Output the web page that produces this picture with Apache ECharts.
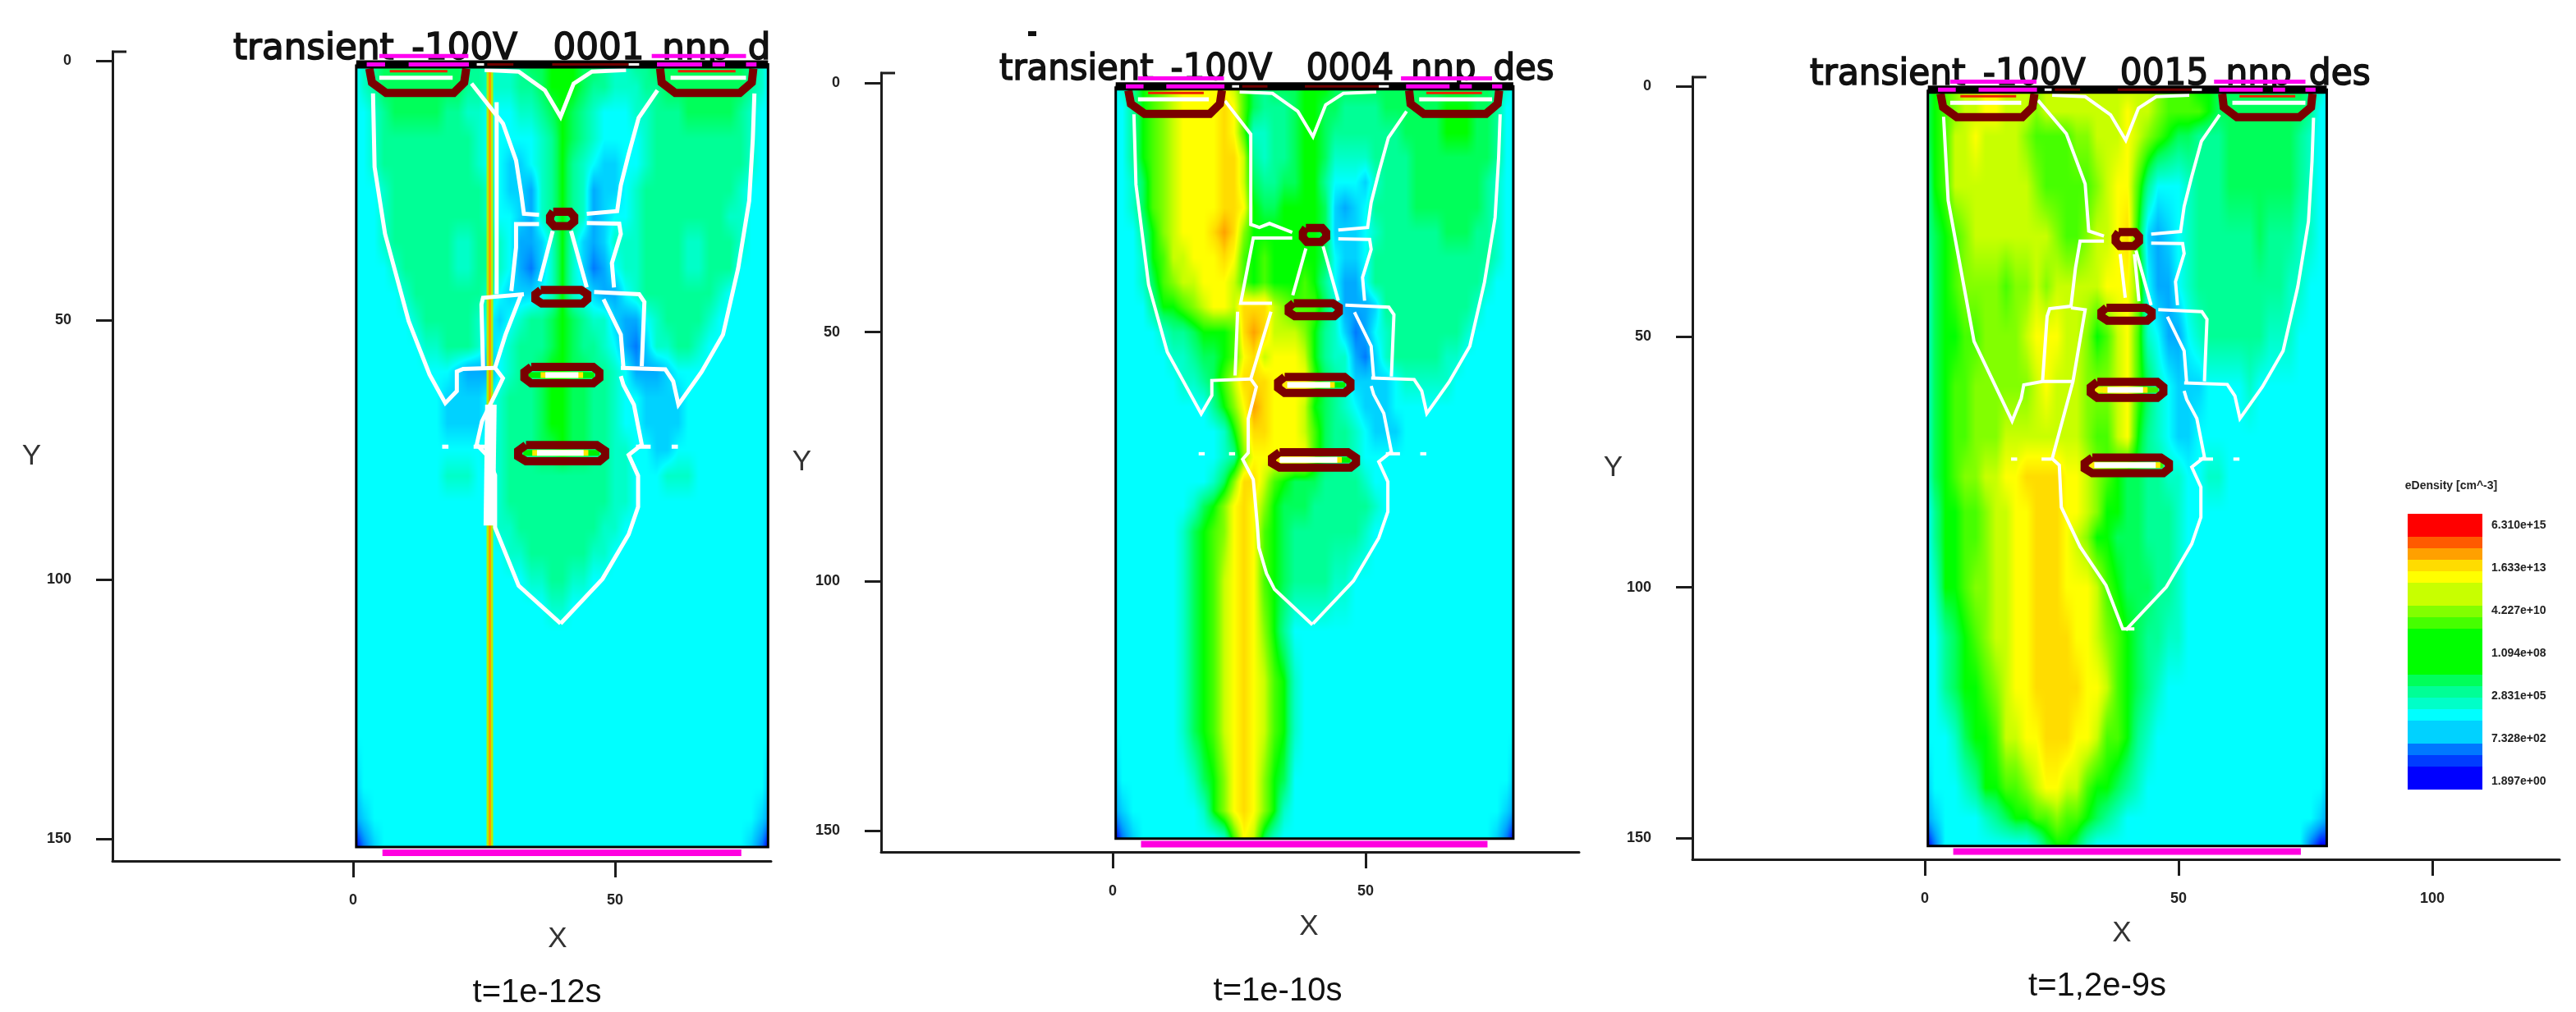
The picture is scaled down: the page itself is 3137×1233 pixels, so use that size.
<!DOCTYPE html>
<html><head><meta charset="utf-8">
<style>html,body{margin:0;padding:0;background:#fff}#c{width:3137px;height:1233px}</style>
<script src="https://cdn.jsdelivr.net/npm/echarts@6/dist/echarts.min.js"></script>
</head><body><div id="c"></div>
<script>
// Colour levels (level 0 = blue ... level 17 = red)
const levelColors = [[0,0,255],[0,60,255],[0,120,255],[0,170,255],[0,210,255],[0,255,255],[0,255,200],[0,255,150],[0,255,90],[0,255,0],[70,255,0],[130,255,0],[200,255,0],[255,255,0],[255,220,0],[255,160,0],[255,90,0],[255,0,0]];
const colorbarLevels = [0,0,1,2,4,4,5,6,7,8,9,9,9,9,10,11,12,12,13,14,15,16,17,17];
const colorbarTicks = ['1.897e+00','7.328e+02','2.831e+05','1.094e+08','4.227e+10','1.633e+13','6.310e+15'];
const colorbarTitle = 'eDensity [cm^-3]';

// Mesh columns (device X), shared by the three panels
const xNodes = [0.6,2,4,6,8,10,12,14,16,18,20,22,24,26,28,30,32,34,36,38,40,42,44,46,48,50,52,54,56,58,60,62,64,66,68,70,72,74,76,78,79.2];

// Panel 1: t=1e-12s  (one base-36 digit per column, levels of the colour bar)
const p1Y = [1,5,10,15,20,25,30,35,40,45,50,55,60,65,70,75,80,85,90,95,100,105,110,130,140,146,151.5];
const p1Rows = [
"5678888888 8776667889 9988766778 8888888876 5",
"5678888888 8776667789 9987766677 8888888876 5",
"5567888887 7665556678 9876555667 7788888765 5",
"5567777777 7765555567 9876555567 7777777765 5",
"5567777777 7765544567 9765445567 7777777765 5",
"5556777777 7776544367 9763445677 7777777655 5",
"5556777777 7776554367 9763455677 7777776655 5",
"5556777777 6677653346 9643466677 7766777655 5",
"5555677777 6677653246 9642356677 7766777555 5",
"5555567777 7776544456 9654335677 7777765555 5",
"5555556777 7765456778 9876643356 7777655555 5",
"5555555667 7764567778 9877653246 6776555555 5",
"5555555555 4333567789 9887765333 4555555555 5",
"5555555554 4445677789 9887765544 4455555555 5",
"5555555554 4445677789 9887765544 4455555555 5",
"5555555555 5556677788 9887766554 4555555555 5",
"5555555556 6655677777 7777766555 6665555555 5",
"5555555555 5555677777 7777766555 5555555555 5",
"5555555555 5555667777 7777665555 5555555555 5",
"5555555555 5555566777 7776655555 5555555555 5",
"5555555555 5555555667 7665555555 5555555555 5",
"5555555555 5555555556 6555555555 5555555555 5",
"5555555555 5555555555 5555555555 5555555555 5",
"5555555555 5555555555 5555555555 5555555555 5",
"4555555555 5555555555 5555555555 5555555555 4",
"3455555555 5555555555 5555555555 5555555554 3",
"0245555555 5555555555 5555555555 5555555542 0"];

// Panel 2: t=1e-10s
const p2Y = [1,5,10,15,20,25,30,35,40,45,50,55,60,65,70,75,80,85,90,100,110,120,130,140,146,151.5];
const p2Rows = [
"5679abcddd ddca878889 9988888888 8888888876 5",
"5579abcddd deda877789 9887777888 8889998875 5",
"5579abcddd deda667789 9877777778 8889998875 5",
"5579abcddd deec767789 9866667777 8888888875 5",
"5568abcddd deec877889 9755546777 8888888765 5",
"5568abcddd deed988999 9843457777 8888888765 5",
"55579bcddd efeb999999 9844456777 7778887765 5",
"55569accdd deda9a9999 9854457777 7777777765 5",
"55568abccd ddca9a999a 9753357777 7777777655 5",
"5555799abc ddceeecbaa a863334777 7777776555 5",
"5555567789 99aefecccb 9764235677 7777765555 5",
"5555556678 89adecdddc 9766324677 7776655555 5",
"5555555667 8aceeedddd a876444456 6666555555 5",
"5555555555 79bdfedddc 9876544455 5555555555 5",
"5555555555 569ceedddc a877654445 5555555555 5",
"5555555555 567bdddddd a877655555 5555555555 5",
"5555555555 68beeca988 8777765555 5555555555 5",
"5555555568 9bdedb9888 7777776555 5555555555 5",
"5555555689 abdeda9877 7777765555 5555555555 5",
"5555555689 acdeda9877 7766555555 5555555555 5",
"5555555689 acdedb9755 5555555555 5555555555 5",
"5555555689 acdedca965 5555555555 5555555555 5",
"5555555689 acdedca965 5555555555 5555555555 5",
"4555555568 9bdedb9855 5555555555 5555555555 4",
"3455555556 9bdedb9655 5555555555 5555555554 3",
"0245555555 56adc86555 5555555555 5555555542 0"];

// Panel 3: t=1,2e-9s
const p3Y = [1,5,10,20,30,40,50,60,70,78,85,90,100,110,120,130,140,146,151.5];
const p3Rows = [
"89abccddcc cbcccccccc cccbaaa998 8888888876 5",
"89abccddcc cbcccccccc dccbaaaa98 8888888875 5",
"89accdcccc baaaabbccc dcba988777 8888888765 5",
"79accccccc cbaaaaabcd da75556777 8888888765 5",
"789abccccc cccbaabccd e943456777 7778777665 5",
"689abbbbab bcbcccccdd db53356777 7777776655 5",
"6899aabbbb cdddccb9ac da65335677 7777666555 5",
"689aabbbbb bcdcccbbbc da86544455 5565555555 5",
"689aabbbcc ccccccbaac d976544555 5555555555 5",
"689abbccdd eeeeddcba9 8877665566 5555555555 5",
"5799aabccd deeeddcb99 8877765555 5555555555 5",
"5799aabccd deeedcb998 8877765555 5555555555 5",
"5699abbccd deeedddca9 8887765555 5555555555 5",
"55789abccd deeeeddcba 9877665555 5555555555 5",
"557899abcd deeeeeddca 9876555555 5555555555 5",
"5556899acc ddeeeddcaa 9765555555 5555555555 5",
"45556799aa bcddcca998 7655555555 5555555555 4",
"3455556789 9aabaa9876 5555555555 5555555554 3",
"0255555555 5689986555 5555555555 5555555520 0"];

// Junction / depletion contours (device coordinates)
const centreVee = [[25.1,1.8],[31.6,2.1],[36.6,5.7],[39.6,10.8],[42.1,4.4],[45.6,2.1],[52.1,1.8]];
const rightContours = [
 [[76.6,6.3],[76.3,15],[75.6,27],[73.5,40],[70.6,52.8],[66.5,60],[62.1,66.3],[61.1,61.8],[59.6,59.5],[51.1,59.2]],
 [[58.1,5.7],[54.5,11],[52.6,18],[51.1,24],[50.4,29],[44.6,29.5]],
 [[44.6,31.3],[50.8,31.4],[51.1,33.4],[49.4,39],[49.8,43.7]],
 [[46,44.6],[54.6,45],[55.6,46.5],[55.1,58.9]],
 [[47.8,46],[51.1,52.8],[51.6,59.2]],
 [[51.1,60.8],[51.6,62.5],[53.6,66.3],[55.1,74],[52.6,76],[54.4,80],[54.4,86],[52.6,91.3],[47.6,99.9],[39.6,108.5]],
 [[41.6,32.8],[44.6,43.7]],
 [[54,74.4],[56.8,74.4]],
 [[60.8,74.4],[62,74.4]]
];
const p1Left = [
 [[3.8,6.3],[4.1,20.5],[6.1,33.4],[10.6,50.2],[14.6,60.5],[17.6,66],[19.8,63.7],[19.8,59.9],[21,59.4],[27,59.2]],
 [[22.6,4.4],[28.6,12.1],[31.1,19.2],[32.1,25.7],[32.6,29.5],[35.5,29.7]],
 [[35.5,31.5],[31.1,31.5],[31.1,36],[30.2,44.4]],
 [[32.6,45],[24.8,45.7],[24.5,47],[24.8,59.2]],
 [[32.1,45],[29.1,52.8],[27.1,59.2],[28.6,61.2],[27.1,64.4],[24.6,69.5],[23.6,74],[25.5,76],[27.1,79.9],[27.1,90],[31.6,101.2],[39.6,108.5]],
 [[38.1,32.8],[35.6,42.5]],
 [[17,74.4],[18.2,74.4]],
 [[23,74.4],[25.2,74.4]]
];
const p2Left = [
 [[4.2,6.3],[4.6,20.4],[7.1,40.5],[10.8,54],[17.5,66.4],[19.6,62.7],[19.6,59.7],[27.3,59.4]],
 [[22.2,3.6],[27.3,10.3],[27.3,28.4],[29,29],[31,28.2],[35.5,30]],
 [[35.5,31.1],[27.8,31.1],[25.3,44.2],[31.5,44.2]],
 [[24.7,45.9],[24.2,58.7]],
 [[31.3,45.9],[27.3,59.4],[28.4,61],[26.8,67.4],[26.8,74.2],[25.7,75.5],[27.8,79.6],[28.6,88.8],[28.9,93.2],[30.4,98.4],[32,101.6],[39.5,108.7]],
 [[38.2,33.2],[35.6,42.6]],
 [[17,74.4],[18.2,74.4]],
 [[23,74.4],[24.2,74.4]]
];
const p3Left = [
 [[3.7,6.1],[4.6,22.8],[9.7,50.9],[17.2,66.8],[19,62.3],[19.5,59.6],[23.2,58.9],[29.2,58.9]],
 [[22.3,2.8],[27.9,9.5],[31.6,19.5],[32.3,28.9],[35.3,29.9]],
 [[35.3,30.9],[30.6,30.9],[29.7,36.2],[28.8,43.9],[24.6,44.4],[24.1,45.9],[23.2,58.9]],
 [[28.8,44.2],[31.6,44.6],[29.2,58.9],[25.1,74.3],[26.5,75.6],[26.9,84],[30.6,91.9],[35.7,99.6],[39,108.3],[41.3,108.3]],
 [[38.5,33.5],[39.5,42.2]],
 [[42.2,42.9],[41.3,33.5]],
 [[17,74.4],[18.2,74.4]],
 [[23,74.4],[25,74.4]]
];
// Contacts and oxide rings
const rings = [
 [[3.1,1.5],[3.6,4.2],[6.3,6.2],[19.2,6.2],[21.2,4.2],[21.6,1.5]],
 [[58.6,1.5],[58.9,4.2],[61.5,6.2],[73.8,6.2],[76.1,4.2],[76.4,1.5]],
 [[38.2,29.1],[41.4,29.1],[42.2,30],[42.2,31],[41.2,31.9],[38.4,31.9],[37.6,31],[37.6,30],[38.2,29.1]],
 [[35.8,44.2],[43.5,44.2],[44.7,45],[44.7,46],[43.8,46.8],[36,46.8],[34.8,46],[34.8,45],[35.8,44.2]],
 [[34,59],[45.8,59],[47,60],[47,61.2],[45.8,62.2],[34,62.2],[32.7,61.2],[32.7,60],[34,59]],
 [[33,74.1],[46.5,74.1],[48.1,75.2],[48.1,76.3],[47,77.2],[33,77.2],[31.5,76.3],[31.5,75.2],[33,74.1]]
];
const contactWhite = [[[5,3.3],[19,3.3]],[[60.6,3.3],[75,3.3]]];
const contactRed = [[[7,2],[18,2]],[[62,2],[73,2]]];
const ringInner = [[[33.5,60.6],[46,60.6]],[[32.5,75.6],[47,75.6]]];
const p1Bars = [[[36.7,60.6],[43,60.6]],[[35.1,75.6],[44,75.6]]];
const p2Bars = [[[34.5,60.6],[43,60.6]],[[33,75.6],[44.4,75.6]]];
const p3Bars = [[[36,60.6],[43,60.6]],[[33.4,75.6],[45.5,75.6]]];
const topMagenta = [[[5,-0.9],[22,-0.9]],[[57,-0.9],[75,-0.9]],[[2.6,0.7],[6.1,0.7]],[[10.6,0.7],[22.1,0.7]],[[58,0.7],[66.6,0.7]],[[68.6,0.7],[71,0.7]],[[75,0.7],[77,0.7]]];
const topMaroon = [[[25.6,0.7],[30.6,0.7]],[[38,0.7],[52.6,0.7]]];
const topWhite = [[[23.6,0.7],[25,0.7]],[[52.6,0.7],[54.6,0.7]]];
const bottomContact = [[5.6,152.7],[74.1,152.7]];
const frame = [[0.6,0.7],[79.2,0.7],[79.2,151.6],[0.6,151.6],[0.6,0.7]];
const topBar = [[0.6,0.7],[79.2,0.7]];
// Panel 1 transient strike track
const strikeTrack = [[26.1,2],[26.1,151.4]];
const p1White = [[[27.4,8],[27.4,45]]];
const p1WhiteThick = [[26.3,66.3],[26,89.6]];

const panelTitles = ['transient_-100V__0001_nnp_d','transient_-100V__0004_nnp_des','transient_-100V__0015_nnp_des'];
const panelCaptions = ['t=1e-12s','t=1e-10s','t=1,2e-9s'];
const yTicks = [0,50,100,150];

const layout = [
 {yLeft:137,yTop:63,xBottom:1049,xRight:939,x0:430,x50:749,y0:74,y150:1022,titleX:284,titleY:83,titleScale:0.99,capX:654,capY:1210,xNameX:679,xNameY:1141,yGap:87,xTicks:[0,50],rows:p1Rows,ys:p1Y,left:p1Left,bars:p1Bars,white:5,ringL:'#00f000',ringR:'#00f000'},
 {yLeft:1073,yTop:89,xBottom:1038,xRight:1923,x0:1355,x50:1663,y0:101,y150:1012,titleX:1217,titleY:108,titleScale:0.95,capX:1556,capY:1208,xNameX:1594,xNameY:1126,yGap:83,xTicks:[0,50],rows:p2Rows,ys:p2Y,left:p2Left,bars:p2Bars,white:4,ringL:'#ffe000',ringR:'#00f000'},
 {yLeft:2061,yTop:94,xBottom:1047,xRight:3117,x0:2344,x50:2653,y0:105,y150:1021,titleX:2204,titleY:114,titleScale:0.96,capX:2554,capY:1202,xNameX:2584,xNameY:1134,yGap:85,xTicks:[0,50,100],rows:p3Rows,ys:p3Y,left:p3Left,bars:p3Bars,white:4,ringL:'#f0f000',ringR:'#40f000'}
];

function lvlColor(l){
  const a=Math.max(0,Math.min(levelColors.length-1,l)),i=Math.min(levelColors.length-2,Math.floor(a)),f=a-i;
  const A=levelColors[i],B=levelColors[i+1];
  return [A[0]+(B[0]-A[0])*f,A[1]+(B[1]-A[1])*f,A[2]+(B[2]-A[2])*f];
}
const tileCache={};
function tile(w,h,a,b,c,d){
  const key=[w,h,a,b,c,d].join();
  if(tileCache[key])return tileCache[key];
  const cv=document.createElement('canvas');cv.width=w;cv.height=h;
  const g=cv.getContext('2d'),im=g.createImageData(w,h);
  for(let y=0;y<h;y++)for(let x=0;x<w;x++){
    const u=(x+.5)/w,v=(y+.5)/h;
    const col=lvlColor(a*(1-u)*(1-v)+b*u*(1-v)+c*(1-u)*v+d*u*v);
    const k=(y*w+x)*4;im.data[k]=col[0];im.data[k+1]=col[1];im.data[k+2]=col[2];im.data[k+3]=255;
  }
  g.putImageData(im,0,0);
  return tileCache[key]=cv;
}
function renderCell(p,api){
  const a=api.coord([api.value(0),api.value(1)]),b=api.coord([api.value(2),api.value(3)]);
  const x=Math.round(a[0]),y=Math.round(a[1]),w=Math.round(b[0])-x,h=Math.round(b[1])-y;
  if(w<=0||h<=0)return null;
  return {type:'image',style:{image:tile(w,h,api.value(4),api.value(5),api.value(6),api.value(7)),x,y,width:w,height:h}};
}
function parseRows(rows){
  return rows.map(r=>{
    const s=r.replace(/\s/g,'');
    const out=[];for(let i=0;i<xNodes.length;i++)out.push(parseInt(s[Math.min(i,s.length-1)],36));
    return out;
  });
}
function cells(rows,ys){
  const g=parseRows(rows),d=[];
  for(let j=0;j<ys.length-1;j++)for(let i=0;i<xNodes.length-1;i++)
    d.push([xNodes[i],ys[j],xNodes[i+1],ys[j+1],g[j][i],g[j][i+1],g[j+1][i],g[j+1][i+1]]);
  return d;
}

const grid=[],xAxis=[],yAxis=[],series=[],graphic=[];
function poly(idx,pts,color,width,z,cap){
  series.push({type:'line',xAxisIndex:idx,yAxisIndex:idx,data:pts,symbol:'none',silent:true,animation:false,z:z,
    lineStyle:{color:color,width:width,join:'miter',cap:cap||'butt'}});
}
const ink='#1c1c1c';
layout.forEach((L,i)=>{
  const sx=(L.x50-L.x0)/50, sy=(L.y150-L.y0)/150;
  grid.push({left:L.yLeft,top:L.yTop,width:L.xRight-L.yLeft,height:L.xBottom-L.yTop});
  xAxis.push({gridIndex:i,type:'value',position:'bottom',min:(L.yLeft-L.x0)/sx,max:(L.xRight-L.x0)/sx,
    splitLine:{show:false},axisLine:{onZero:false,lineStyle:{color:ink,width:3}},
    axisTick:{length:20,customValues:L.xTicks,lineStyle:{color:ink,width:3}},
    axisLabel:{customValues:L.xTicks,margin:39,fontFamily:'Liberation Sans',fontWeight:'bold',fontSize:18,color:'#222'},
    name:'X',nameLocation:'middle',nameGap:L.xNameY-L.xBottom-14,
    nameTextStyle:{fontFamily:'Liberation Sans',fontSize:35,color:'#333',padding:[0,0,0,2*(L.xNameX-(L.yLeft+L.xRight)/2)]}});
  yAxis.push({gridIndex:i,type:'value',inverse:true,min:(L.yTop-L.y0)/sy,max:(L.xBottom-L.y0)/sy,
    splitLine:{show:false},axisLine:{onZero:false,lineStyle:{color:ink,width:3}},
    axisTick:{length:20,customValues:yTicks,lineStyle:{color:ink,width:3}},
    axisLabel:{customValues:yTicks,margin:50,fontFamily:'Liberation Sans',fontWeight:'bold',fontSize:18,color:'#222'},
    name:'Y',nameLocation:'middle',nameRotate:0,nameGap:L.yGap,
    nameTextStyle:{fontFamily:'Liberation Sans',fontSize:35,color:'#333',padding:[16,0,0,0]}});
  series.push({type:'custom',xAxisIndex:i,yAxisIndex:i,coordinateSystem:'cartesian2d',renderItem:renderCell,
    data:cells(L.rows,L.ys),encode:{x:[0,2],y:[1,3]},silent:true,animation:false,z:2,clip:false});
  if(i===0){
    poly(i,strikeTrack,'#b4f000',8,3);
    poly(i,strikeTrack,'#ff9a00',3,3);
    p1White.forEach(l=>poly(i,l,'#fff',5,4));
  }
  L.left.concat(rightContours,[centreVee]).forEach(l=>poly(i,l,'#fff',L.white,4));
  if(i===0)poly(i,p1WhiteThick,'#fff',14,4);
  contactWhite.forEach(l=>poly(i,l,'#fff',5,5));
  contactRed.forEach(l=>poly(i,l,'#f02000',3,5));
  ringInner.forEach((l,k)=>{
    poly(i,[l[0],[40,l[0][1]]],L.ringL,7,5);
    poly(i,[[40,l[0][1]],l[1]],L.ringR,7,5);
  });
  L.bars.forEach(l=>{
    poly(i,[[l[0][0]-0.9,l[0][1]],[l[1][0]+0.9,l[1][1]]],'#ffe800',7,5);
    poly(i,l,'#fff',7,5);
  });
  rings.forEach(l=>poly(i,l,'#7a0000',10,6));
  poly(i,frame,'#000',3,7);
  poly(i,topBar,'#000',10,7);
  topMaroon.forEach(l=>poly(i,l,'#700000',3,8));
  topWhite.forEach(l=>poly(i,l,'#fff',3,8));
  topMagenta.forEach(l=>poly(i,l,'#ff00f0',5,8));
  poly(i,bottomContact,'#ff00e0',8,8);
  graphic.push({type:'line',z:3,shape:{x1:L.yLeft-1,y1:L.yTop,x2:L.yLeft+17,y2:L.yTop},style:{stroke:ink,lineWidth:3}});
  graphic.push({type:'text',z:1,x:L.titleX,y:L.titleY,scaleX:L.titleScale,
    style:{text:panelTitles[i],fill:'#111',stroke:'#111',lineWidth:1.6,font:'44px "DejaVu Sans"',textAlign:'left',textVerticalAlign:'bottom'}});
  graphic.push({type:'text',z:3,x:L.capX,y:L.capY,
    style:{text:panelCaptions[i],fill:'#111',font:'40px "Liberation Sans"',textAlign:'center',textVerticalAlign:'middle'}});
});
graphic.push({type:'rect',z:3,shape:{x:1252,y:38,width:10,height:6},style:{fill:'#111'}});
graphic.push({type:'text',z:3,x:2985,y:592,style:{text:colorbarTitle,fill:'#222',font:'bold 14px "Liberation Sans"',textAlign:'center',textVerticalAlign:'middle'}});

// Colour bar
const cbMin=-0.19, cbMax=6.27, cbIdx=3;
grid.push({left:2932,top:626,width:91,height:336});
xAxis.push({gridIndex:cbIdx,type:'value',min:0,max:1,show:false});
yAxis.push({gridIndex:cbIdx,type:'value',min:cbMin,max:cbMax,position:'right',splitLine:{show:false},axisLine:{show:false},axisTick:{show:false},
  axisLabel:{customValues:[0,1,2,3,4,5,6],margin:11,fontFamily:'Liberation Sans',fontWeight:'bold',fontSize:14,color:'#222',
    formatter:v=>colorbarTicks[Math.round(v)]}});
const step=(cbMax-cbMin)/colorbarLevels.length;
series.push({type:'custom',xAxisIndex:cbIdx,yAxisIndex:cbIdx,coordinateSystem:'cartesian2d',silent:true,animation:false,z:2,
  data:colorbarLevels.map((l,i)=>[0,cbMin+i*step,1,cbMin+(i+1)*step,l]),encode:{x:[0,2],y:[1,3]},
  renderItem:(p,api)=>{
    const a=api.coord([api.value(0),api.value(3)]),b=api.coord([api.value(2),api.value(1)]);
    const c=lvlColor(api.value(4));
    return {type:'rect',shape:{x:a[0],y:Math.floor(a[1]),width:b[0]-a[0],height:Math.ceil(b[1])-Math.floor(a[1])},style:{fill:`rgb(${c[0]},${c[1]},${c[2]})`}};
  }});

const chart=echarts.init(document.getElementById('c'),null,{renderer:'canvas',width:3137,height:1233});
chart.setOption({animation:false,backgroundColor:'#fff',tooltip:{show:false},grid,xAxis,yAxis,series,graphic});
</script></body></html>
